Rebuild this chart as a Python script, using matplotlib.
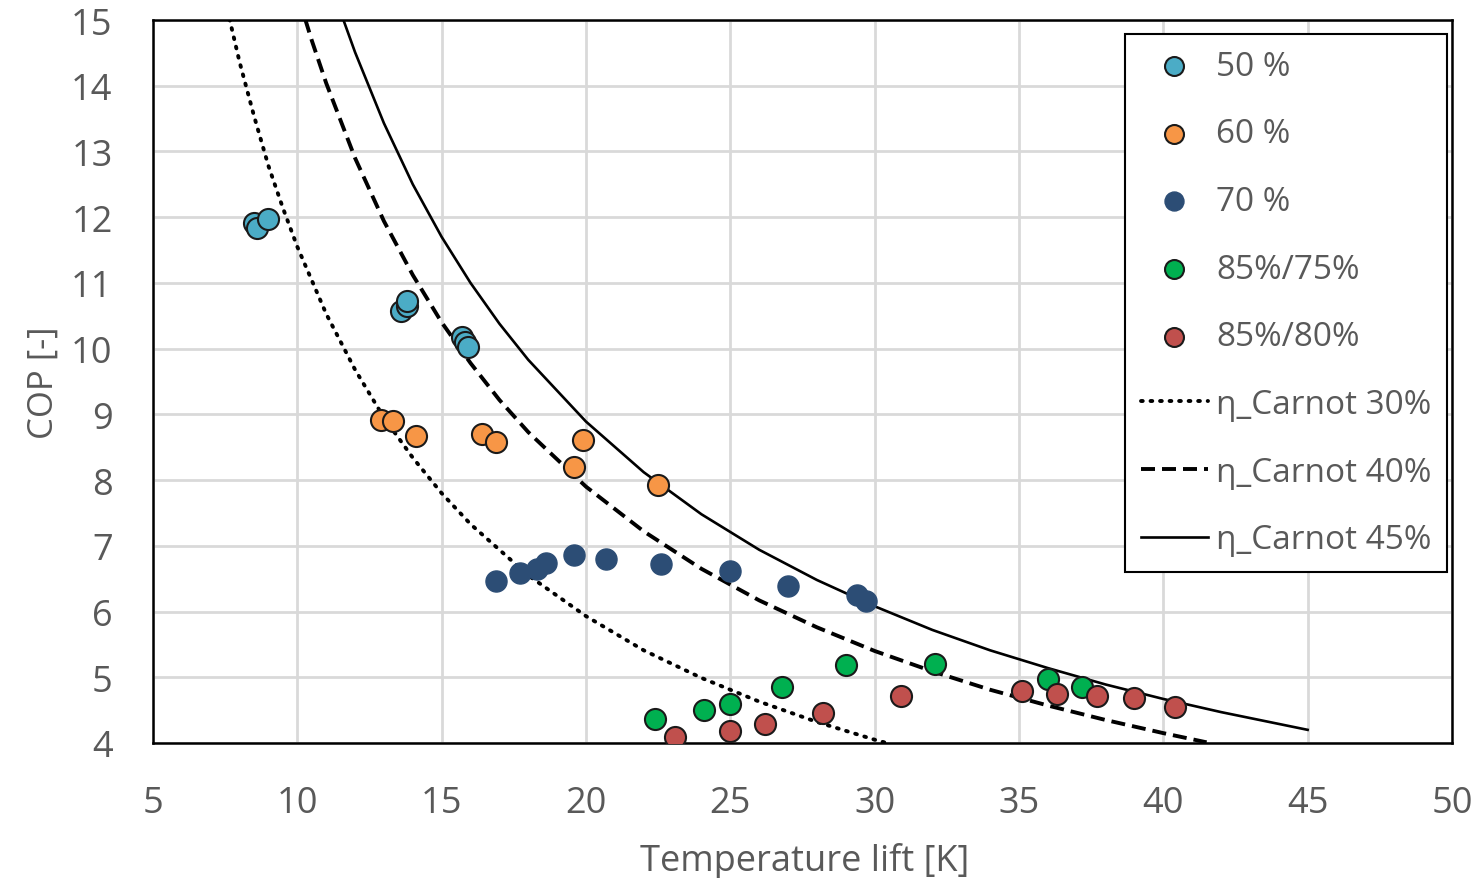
import numpy as np
import matplotlib
matplotlib.use("Agg")
import matplotlib.pyplot as plt

# Measured points (temperature lift [K], COP [-])
lift_50 = [8.5, 8.6, 9.0, 13.6, 13.8, 13.8, 15.7, 15.8, 15.9]
cop_50 = [11.91, 11.84, 11.97, 10.57, 10.65, 10.72, 10.18, 10.10, 10.02]

lift_60 = [12.9, 13.3, 14.1, 16.4, 16.9, 19.9, 19.6, 22.5]
cop_60 = [8.91, 8.90, 8.67, 8.70, 8.58, 8.61, 8.20, 7.93]

lift_70 = [16.9, 17.7, 18.3, 18.6, 19.6, 20.7, 22.6, 25.0, 27.0, 29.4, 29.7]
cop_70 = [6.46, 6.59, 6.64, 6.74, 6.86, 6.80, 6.72, 6.62, 6.39, 6.25, 6.16]

lift_85_75 = [22.4, 24.1, 25.0, 26.8, 29.0, 32.1, 36.0, 37.2]
cop_85_75 = [4.37, 4.50, 4.59, 4.85, 5.19, 5.20, 4.97, 4.85]

lift_85_80 = [23.1, 25.0, 26.2, 28.2, 30.9, 35.1, 36.3, 37.7, 39.0, 40.4]
cop_85_80 = [4.09, 4.18, 4.29, 4.46, 4.71, 4.79, 4.75, 4.71, 4.68, 4.55]

# Carnot reference curves
lift_c30 = [7.5, 8, 8.5, 9, 9.5, 10, 11, 12, 13, 14, 15, 16, 18, 20, 22, 24, 26, 28, 30, 30.5]
cop_c30 = [15.30, 14.36, 13.54, 12.78, 12.14, 11.55, 10.53, 9.68, 8.95, 8.34, 7.80, 7.33,
           6.55, 5.93, 5.41, 4.99, 4.63, 4.32, 4.05, 3.99]

lift_c40 = [10, 10.5, 11, 12, 13, 14, 15, 16, 17, 18, 20, 22, 24, 26, 28, 30, 32, 34, 36, 38, 40, 41.5]
cop_c40 = [15.40, 14.69, 14.04, 12.90, 11.94, 11.12, 10.40, 9.78, 9.22, 8.73, 7.90, 7.22,
           6.65, 6.17, 5.76, 5.40, 5.09, 4.81, 4.57, 4.35, 4.15, 4.01]

lift_c45 = [11.5, 12, 13, 14, 15, 16, 17, 18, 20, 22, 24, 26, 28, 30, 32, 34, 36, 38, 40, 42, 45]
cop_c45 = [15.12, 14.51, 13.43, 12.50, 11.70, 11.00, 10.38, 9.83, 8.89, 8.12, 7.48, 6.94,
           6.48, 6.08, 5.72, 5.41, 5.14, 4.89, 4.67, 4.47, 4.20]

txt = "#595959"
plt.rcParams["font.family"] = ["Open Sans", "DejaVu Sans"]

fig = plt.figure(figsize=(14.81, 8.79), dpi=100)
ax = fig.add_axes([0.1033, 0.1536, 0.8771, 0.8225])

ax.plot(lift_c30, cop_c30, color="black", linestyle=(0, (0.45, 2.0)), linewidth=2.8,
        dash_capstyle="round", label="η_Carnot 30%", zorder=2)
ax.plot(lift_c40, cop_c40, color="black", linestyle=(0, (3.6, 1.8)), linewidth=2.8,
        label="η_Carnot 40%", zorder=2)
ax.plot(lift_c45, cop_c45, color="black", linestyle="-", linewidth=1.9,
        label="η_Carnot 45%", zorder=2)

ms = 230
ax.scatter(lift_50, cop_50, s=ms, color="#4bacc6", edgecolor="#1a1a1a", linewidth=1.5, label="50 %", zorder=3)
ax.scatter(lift_60, cop_60, s=ms, color="#f79646", edgecolor="#1a1a1a", linewidth=1.5, label="60 %", zorder=3)
ax.scatter(lift_70, cop_70, s=ms, color="#2c4d75", edgecolor="#2c4d75", linewidth=1.0, label="70 %", zorder=3)
ax.scatter(lift_85_75, cop_85_75, s=ms, color="#00b050", edgecolor="#1a1a1a", linewidth=1.5, label="85%/75%", zorder=3)
ax.scatter(lift_85_80, cop_85_80, s=ms, color="#c0504d", edgecolor="#1a1a1a", linewidth=1.5, label="85%/80%", zorder=3)

ax.set_xlim(5, 50)
ax.set_ylim(4, 15)
ax.set_xticks(range(5, 51, 5))
ax.set_yticks(range(4, 16))
ax.grid(True, color="#d9d9d9", linewidth=2.0)
ax.set_axisbelow(True)
for sp in ax.spines.values():
    sp.set_color("black")
    sp.set_linewidth(1.8)

ax.tick_params(axis="both", length=0, colors=txt, labelsize=26)
ax.tick_params(axis="y", pad=29)
ax.tick_params(axis="x", pad=30)

ax.set_xlabel("Temperature lift [K]", fontsize=26, color=txt)
ax.set_ylabel("COP [-]", fontsize=25, color=txt)
ax.xaxis.set_label_coords(0.502, -0.137)
ax.yaxis.set_label_coords(-0.071, 0.50)

handles, labels = ax.get_legend_handles_labels()
order = [3, 4, 5, 6, 7, 0, 1, 2]
leg = ax.legend([handles[i] for i in order], [labels[i] for i in order],
                loc="upper right", bbox_to_anchor=(0.9965, 0.981),
                fontsize=24, labelcolor=txt, frameon=True, fancybox=False,
                edgecolor="black", framealpha=1, handlelength=2.0,
                handletextpad=0.25, labelspacing=1.04, borderpad=0.48,
                borderaxespad=0, markerscale=0.9)
leg.get_frame().set_linewidth(1.5)

fig.savefig("out.png", dpi=100)
